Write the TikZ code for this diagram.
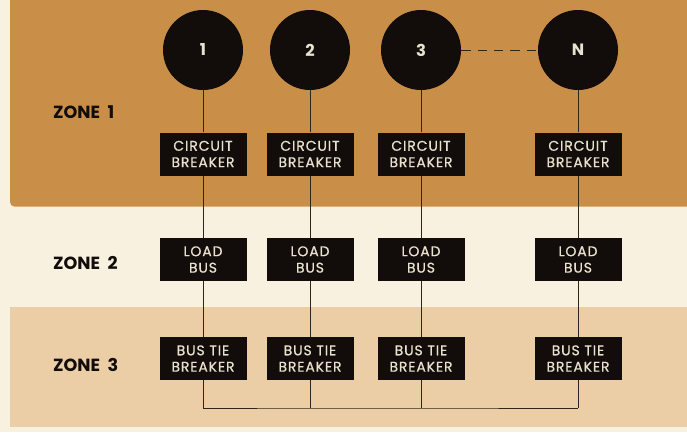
\documentclass[tikz,border=0pt]{standalone}
\usepackage{fontspec}
\setmainfont{Poppins}
\newfontfamily\boxfont[LetterSpace=6,FakeBold=0.5]{Poppins}
\definecolor{zoneone}{RGB}{201,143,72}
\definecolor{zonetwo}{RGB}{248,241,224}
\definecolor{zonethree}{RGB}{235,206,166}
\definecolor{boxink}{RGB}{18,12,10}
\definecolor{boxtext}{RGB}{232,226,206}
\definecolor{wire}{RGB}{45,38,28}
\begin{document}
\begin{tikzpicture}[
  gen/.style={circle,fill=boxink,minimum size=2.4cm,inner sep=0,text=boxtext,font=\fontsize{14pt}{16pt}\selectfont\bfseries},
  unit/.style={rectangle,fill=boxink,minimum width=2.61cm,minimum height=1.29cm,inner sep=0,align=center,text=boxtext,font=\boxfont\fontsize{12pt}{14pt}\selectfont},
  zone/.style={anchor=west,text=boxink,font=\fontsize{15pt}{18pt}\selectfont\bfseries},
  line/.style={draw=wire,line width=0.8pt}
]
\useasboundingbox (0, 0) rectangle (20.61, -12.96);
\fill [zonetwo] (0, 0) rectangle (20.61, -12.96);
\fill [zoneone,rounded corners=4pt] (0.3, 0.3) rectangle (20.91, -6.2);
\fill [zonethree] (0.3, -9.21) rectangle (20.91, -12.81);

\node (z1) at (1.47, -3.36) [zone] {ZONE\ \ 1};
\node (z2) at (1.47, -7.89) [zone] {ZONE\ \ 2};
\node (z3) at (1.47, -10.95) [zone] {ZONE\ \ 3};

% generators
\node (g1) at (6.09, -1.5) [gen] {1};
\node (g2) at (9.3, -1.5) [gen] {2};
\node (g3) at (12.63, -1.5) [gen] {3};
\node (gN) at (17.34, -1.5) [gen] {N};
\draw [line,dashed,dash pattern=on 8pt off 6pt] (g3.east) -- (gN.west);

% circuit breakers
\node (cb1) at (6.09, -4.62) [unit] {CIRCUIT\\BREAKER};
\node (cb2) at (9.3, -4.62) [unit] {CIRCUIT\\BREAKER};
\node (cb3) at (12.63, -4.62) [unit] {CIRCUIT\\BREAKER};
\node (cbN) at (17.34, -4.62) [unit] {CIRCUIT\\BREAKER};

% load buses
\node (lb1) at (6.09, -7.785) [unit] {LOAD\\BUS};
\node (lb2) at (9.3, -7.785) [unit] {LOAD\\BUS};
\node (lb3) at (12.63, -7.785) [unit] {LOAD\\BUS};
\node (lbN) at (17.34, -7.785) [unit] {LOAD\\BUS};

% bus tie breakers
\node (bt1) at (6.09, -10.755) [unit] {BUS TIE\\BREAKER};
\node (bt2) at (9.3, -10.755) [unit] {BUS TIE\\BREAKER};
\node (bt3) at (12.63, -10.755) [unit] {BUS TIE\\BREAKER};
\node (btN) at (17.34, -10.755) [unit] {BUS TIE\\BREAKER};

\coordinate (b1) at (6.09, -12.24);
\coordinate (b2) at (9.3, -12.24);
\coordinate (b3) at (12.63, -12.24);
\coordinate (bN) at (17.34, -12.24);

\draw [line] (g1) -- (cb1) -- (lb1) -- (bt1) -- (b1);
\draw [line] (g2) -- (cb2) -- (lb2) -- (bt2) -- (b2);
\draw [line] (g3) -- (cb3) -- (lb3) -- (bt3) -- (b3);
\draw [line] (gN) -- (cbN) -- (lbN) -- (btN) -- (bN);
\draw [line] (b1) -- (b2) -- (b3) -- (bN);
\end{tikzpicture}
\end{document}
